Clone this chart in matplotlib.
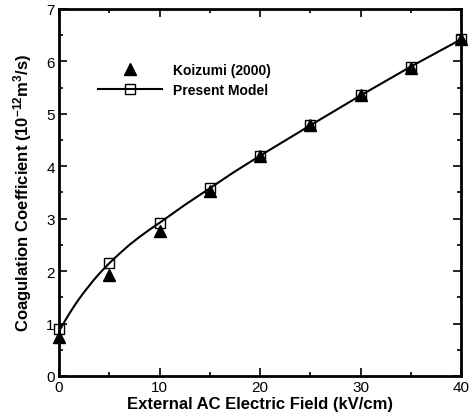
import matplotlib
matplotlib.use("Agg")
import matplotlib.pyplot as plt
from matplotlib.ticker import MultipleLocator

plt.rcParams['font.family'] = ['Liberation Sans', 'DejaVu Sans']
plt.rcParams['mathtext.fontset'] = 'custom'
plt.rcParams['mathtext.bf'] = 'Liberation Sans:bold'
plt.rcParams['mathtext.rm'] = 'Liberation Sans'
plt.rcParams['mathtext.default'] = 'bf'

field = [0, 5, 10, 15, 20, 25, 30, 35, 40]
koizumi = [0.75, 1.93, 2.77, 3.53, 4.20, 4.78, 5.35, 5.88, 6.42]
model = [0.90, 2.15, 2.92, 3.58, 4.20, 4.78, 5.35, 5.90, 6.42]

curve_x = [0, 0.5, 1, 1.5, 2, 2.5, 3, 3.5, 4, 4.5, 5, 6, 7, 8, 9, 10,
           12.5, 15, 17.5, 20, 25, 30, 35, 40]
curve_y = [0.85, 1.02, 1.18, 1.33, 1.47, 1.60, 1.72, 1.84, 1.95, 2.05, 2.15,
           2.33, 2.50, 2.65, 2.79, 2.92, 3.26, 3.58, 3.90, 4.20, 4.78, 5.35, 5.90, 6.42]

fig = plt.figure(figsize=(4.7, 4.14), dpi=100)
ax = fig.add_axes([0.1255, 0.0894, 0.8555, 0.8866])

ax.plot(curve_x, curve_y, color='black', lw=1.5, zorder=2)
ax.plot(field, model, ls='none', marker='s', ms=7.8, mfc='none', mec='black', mew=1,
        zorder=3, clip_on=False)
ax.plot(field, koizumi, ls='none', marker='^', ms=8, color='black', zorder=4, clip_on=False)

h1 = ax.plot([], [], ls='none', marker='^', ms=8, color='black')[0]
h2 = ax.plot([], [], color='black', lw=1.5, marker='s', ms=7.8, mfc='none', mec='black', mew=1)[0]
ax.legend([h1, h2], ['Koizumi (2000)', 'Present Model'], loc='upper left',
          bbox_to_anchor=(0.08, 0.872), frameon=False, borderpad=0, handlelength=4.6,
          handletextpad=0.8, labelspacing=0.45, prop={'weight': 'bold', 'size': 10})

ax.set_xlim(0, 40)
ax.set_ylim(0, 7)
ax.xaxis.set_major_locator(MultipleLocator(10))
ax.xaxis.set_minor_locator(MultipleLocator(5))
ax.yaxis.set_major_locator(MultipleLocator(1))
ax.yaxis.set_minor_locator(MultipleLocator(0.5))
ax.tick_params(which='both', direction='in', top=True, right=True, labelsize=11, width=1.2)
ax.tick_params(which='major', length=6, pad=3)
ax.tick_params(which='minor', length=3)
for s in ax.spines.values():
    s.set_linewidth(2)

ax.set_xlabel('External AC Electric Field (kV/cm)', fontsize=12, fontweight='bold', labelpad=1)
ax.set_ylabel('Coagulation Coefficient (10$^{\\mathregular{-12}}$m$^{3}$/s)', fontsize=12,
              fontweight='bold', labelpad=9)

fig.savefig('out.png', dpi=100)
